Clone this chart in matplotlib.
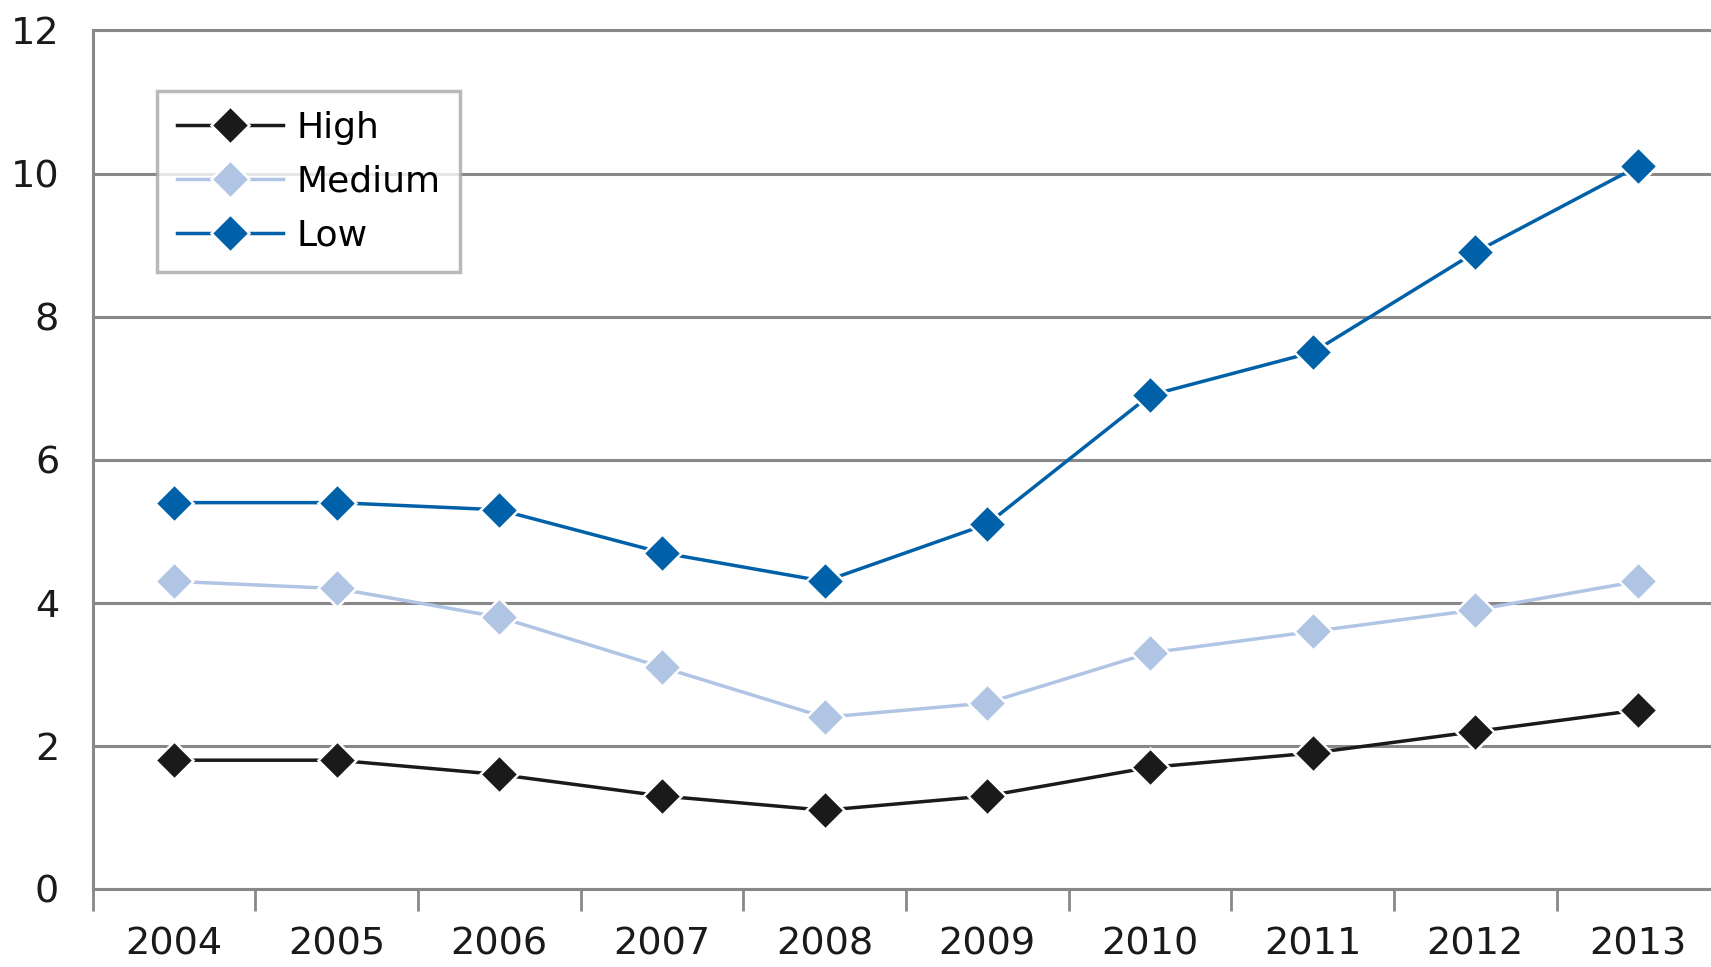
import numpy as np
import matplotlib
matplotlib.use("Agg")
import matplotlib.pyplot as plt

years = ["2004", "2005", "2006", "2007", "2008", "2009", "2010", "2011", "2012", "2013"]
high = [1.8, 1.8, 1.6, 1.3, 1.1, 1.3, 1.7, 1.9, 2.2, 2.5]
medium = [4.3, 4.2, 3.8, 3.1, 2.4, 2.6, 3.3, 3.6, 3.9, 4.3]
low = [5.4, 5.4, 5.3, 4.7, 4.3, 5.1, 6.9, 7.5, 8.9, 10.1]

series = [("High", high, "#1a1a1a"),
          ("Medium", medium, "#b0c4e4"),
          ("Low", low, "#0060a8")]

plt.rcParams['font.family'] = ['DejaVu Sans']
GRID = "#888888"

fig = plt.figure(figsize=(17.11, 9.67), dpi=100)
ax = fig.add_axes([0.0541, 0.0807, 0.9507, 0.8878])

x = np.arange(len(years))
for name, vals, col in series:
    ax.plot(x, vals, color=col, lw=2.5, marker="D", markersize=19,
            markerfacecolor=col, markeredgecolor="white", markeredgewidth=1.8,
            label=name, zorder=3)

ax.set_xlim(-0.5, len(years) - 0.5)
ax.set_ylim(0, 12)
ax.set_yticks(range(0, 13, 2))
ax.yaxis.grid(True, color=GRID, lw=2.2)
ax.set_axisbelow(True)

# boundary ticks without labels, year labels centred on categories
ax.set_xticks(np.arange(-0.5, len(years), 1.0))
ax.set_xticklabels([])
ax.set_xticks(x, minor=True)
ax.set_xticklabels(years, minor=True)
ax.tick_params(axis="x", which="major", direction="out", length=16, width=2, color=GRID)
ax.tick_params(axis="x", which="minor", length=0, pad=27, labelsize=27.5, labelcolor="#1a1a1a")
ax.tick_params(axis="y", length=0, pad=24, labelsize=27.5, labelcolor="#1a1a1a")

for side in ["left", "top", "bottom"]:
    ax.spines[side].set_color(GRID)
    ax.spines[side].set_linewidth(2.2)
ax.spines["right"].set_visible(False)

leg = ax.legend(loc="upper left", bbox_to_anchor=(157 / 1711, 1 - 91 / 967),
                bbox_transform=fig.transFigure, fontsize=26, frameon=True,
                fancybox=False, edgecolor="#a8a8a8", handlelength=2.95,
                labelspacing=0.55, borderpad=0.55, handletextpad=0.35,
                borderaxespad=0)
leg.get_frame().set_linewidth(2.5)

fig.savefig("out.png", dpi=100)
